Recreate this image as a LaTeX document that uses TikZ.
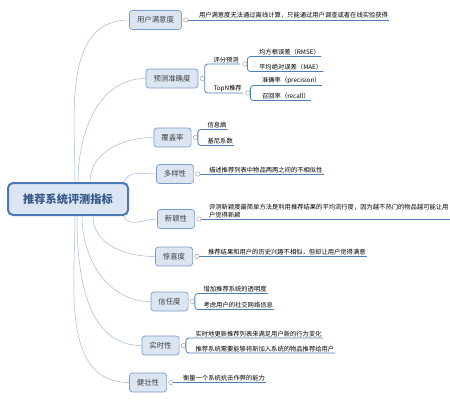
\documentclass[tikz,border=0pt]{standalone}
\usepackage{fontspec}
\newfontfamily\cjk{Noto Sans CJK SC}
\usetikzlibrary{positioning}
\definecolor{boxfill}{HTML}{DCE6F2}
\definecolor{boxline}{HTML}{7A9CC8}
\definecolor{rootline}{HTML}{4A78B8}
\definecolor{roottext}{HTML}{35588A}
\definecolor{lineblue}{HTML}{4F7FBA}
\definecolor{linkblue}{HTML}{A3B7D3}
\tikzset{
  root/.style={draw=rootline, line width=2pt, fill=boxfill, rounded corners=5pt,
    minimum width=120pt, minimum height=32pt, text=roottext,
    font=\cjk\bfseries\fontsize{11.2}{13}\selectfont},
  topic/.style={draw=boxline, line width=0.7pt, fill=boxfill, rounded corners=3pt,
    minimum height=19pt, inner xsep=7.5pt, text=black!75,
    font=\cjk\fontsize{7.4}{9}\selectfont},
  fold/.style={circle, draw=black!40, fill=white, line width=0.4pt, inner sep=0pt,
    minimum size=4.5pt},
  leaf/.style={anchor=south west, inner xsep=1pt, inner ysep=1.2pt, align=left,
    font=\cjk\fontsize{6.3}{8}\selectfont},
  uline/.style={draw=lineblue, line width=0.8pt},
  link/.style={draw=linkblue, line width=0.5pt},
}
\begin{document}
\begin{tikzpicture}[x=1pt,y=-1pt]
\useasboundingbox (0,0) rectangle (450,400);
\node[root] (root) at (68,199) {推荐系统评测指标};

\node[topic] (satisf) at (155.5,20) {用户满意度};
\node[topic] (accur) at (172,78.5) {预测准确度};
\node[topic] (cover) at (172.5,137.5) {覆盖率};
\node[topic] (divers) at (175,174) {多样性};
\node[topic] (novel) at (176,219) {新颖性};
\node[topic] (seren) at (174,256.5) {惊喜度};
\node[topic] (trust) at (169.5,301.5) {信任度};
\node[topic] (realtime) at (160.5,345.5) {实时性};
\node[topic] (robust) at (148,382.5) {健壮性};

\draw[link] ([xshift=7pt]root.north) to[out=90,in=180] (satisf.west);
\draw[link] ([xshift=10pt]root.north) to[out=90,in=180] (accur.west);
\draw[link] ([xshift=22pt]root.north) to[out=90,in=180] (cover.west);
\draw[link] ([xshift=-5pt]root.north east) to[out=70,in=180] (divers.west);
\draw[link] ([xshift=-5pt]root.south east) to[out=-70,in=180] (novel.west);
\draw[link] ([xshift=25pt]root.south) to[out=-90,in=180] (seren.west);
\draw[link] ([xshift=14pt]root.south) to[out=-90,in=180] (trust.west);
\draw[link] ([xshift=9pt]root.south) to[out=-90,in=180] (realtime.west);
\draw[link] ([xshift=7pt]root.south) to[out=-90,in=180] (robust.west);

\node[fold, right=1.5pt of satisf] (satisf-f) {};
\node[leaf] (satisf-a) at ([xshift=12pt]satisf-f.center) {用户满意度无法通过离线计算，只能通过用户调查或者在线实验获得};
\draw[uline] (satisf-f.east) -- (satisf-a.south east);

\node[leaf] (rate) at ([xshift=14pt,yshift=14.5pt]accur.east) {评分预测};
\node[leaf] (topn) at ([xshift=14pt,yshift=-14.5pt]accur.east) {TopN推荐};
\node[leaf] (rmse) at ([xshift=18pt,yshift=7.5pt]rate.south east) {均方根误差（RMSE）};
\node[leaf] (mae) at ([xshift=18pt,yshift=-7.5pt]rate.south east) {平均绝对误差（MAE）};
\node[leaf] (prec) at ([xshift=18pt,yshift=7.5pt]topn.south east) {准确率（precision）};
\node[leaf] (recall) at ([xshift=18pt,yshift=-7.5pt]topn.south east) {召回率（recall）};
\node[fold, right=1.5pt of accur] (accur-f) {};
\node[fold] (rate-f) at ([xshift=5pt]rate.south east) {};
\node[fold] (topn-f) at ([xshift=5pt]topn.south east) {};
\draw[uline, rounded corners=3pt] (accur-f.east) |- (rate.south west) -- (rate.south east);
\draw[uline, rounded corners=3pt] (accur-f.east) |- (topn.south west) -- (topn.south east);
\draw[uline, rounded corners=3pt] (rate-f.east) |- (rmse.south west) -- (rmse.south east);
\draw[uline, rounded corners=3pt] (rate-f.east) |- (mae.south west) -- (mae.south east);
\draw[uline, rounded corners=3pt] (topn-f.east) |- (prec.south west) -- (prec.south east);
\draw[uline, rounded corners=3pt] (topn-f.east) |- (recall.south west) -- (recall.south east);

\node[fold, right=1.5pt of cover] (cover-f) {};
\node[leaf] (entropy) at ([xshift=11pt,yshift=8pt]cover-f.center) {信息熵};
\node[leaf] (gini) at ([xshift=11pt,yshift=-8pt]cover-f.center) {基尼系数};
\draw[uline, rounded corners=3pt] (cover-f.east) |- (entropy.south west) -- (entropy.south east);
\draw[uline, rounded corners=3pt] (cover-f.east) |- (gini.south west) -- (gini.south east);

\node[fold, right=1.5pt of divers] (divers-f) {};
\node[leaf] (divers-a) at ([xshift=10pt]divers-f.center) {描述推荐列表中物品两两之间的不相似性};
\draw[uline] (divers-f.east) -- (divers-a.south east);

\node[fold, right=1.5pt of novel] (novel-f) {};
\node[leaf] (novel-a) at ([xshift=9pt]novel-f.center) {评测新颖度最简单方法是利用推荐结果的平均流行度，因为越不热门的物品越可能让用\\户觉得新颖};
\draw[uline] (novel-f.east) -- (novel-a.south east);

\node[fold, right=1.5pt of seren] (seren-f) {};
\node[leaf] (seren-a) at ([xshift=10pt]seren-f.center) {推荐结果和用户的历史兴趣不相似，但却让用户觉得满意};
\draw[uline] (seren-f.east) -- (seren-a.south east);

\node[fold, right=1.5pt of trust] (trust-f) {};
\node[leaf] (trust-a) at ([xshift=10pt,yshift=8pt]trust-f.center) {增加推荐系统的透明度};
\node[leaf] (trust-b) at ([xshift=10pt,yshift=-8pt]trust-f.center) {考虑用户的社交网络信息};
\draw[uline, rounded corners=3pt] (trust-f.east) |- (trust-a.south west) -- (trust-a.south east);
\draw[uline, rounded corners=3pt] (trust-f.east) |- (trust-b.south west) -- (trust-b.south east);

\node[fold, right=1.5pt of realtime] (realtime-f) {};
\node[leaf] (realtime-a) at ([xshift=11pt,yshift=7.5pt]realtime-f.center) {实时地更新推荐列表来满足用户新的行为变化};
\node[leaf] (realtime-b) at ([xshift=11pt,yshift=-7.5pt]realtime-f.center) {推荐系统需要能够将新加入系统的物品推荐给用户};
\draw[uline, rounded corners=3pt] (realtime-f.east) |- (realtime-a.south west) -- (realtime-a.south east);
\draw[uline, rounded corners=3pt] (realtime-f.east) |- (realtime-b.south west) -- (realtime-b.south east);

\node[fold, right=1.5pt of robust] (robust-f) {};
\node[leaf] (robust-a) at ([xshift=11pt]robust-f.center) {衡量一个系统抗击作弊的能力};
\draw[uline] (robust-f.east) -- (robust-a.south east);
\end{tikzpicture}
\end{document}
